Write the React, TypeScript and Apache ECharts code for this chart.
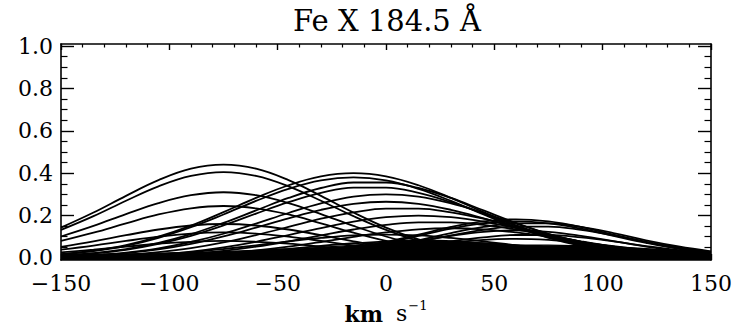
import { useEffect, useRef } from "react";
import * as echarts from "echarts";

// Doppler velocity sample points (km/s)
const velocity = [-150, -135, -120, -105, -90, -75, -60, -45, -30, -15, 0, 15, 30, 45, 60, 75, 90, 105, 120, 135, 150];

const titleText = "Fe X 184.5 Å";
const yMajorTicks = [0, 0.2, 0.4, 0.6, 0.8, 1.0];
const yMinorTicks = [0.05, 0.1, 0.15, 0.25, 0.3, 0.35, 0.45, 0.5, 0.55, 0.65, 0.7, 0.75, 0.85, 0.9, 0.95];

// blue-shifted component profiles (peak near -75 km/s)
const profileA1 = [0.143, 0.214, 0.293, 0.367, 0.421, 0.44, 0.421, 0.367, 0.293, 0.214, 0.143, 0.087, 0.048, 0.025, 0.011, 0.005, 0.002, 0.001, 0, 0, 0];
const profileA2 = [0.132, 0.197, 0.27, 0.338, 0.387, 0.405, 0.387, 0.338, 0.27, 0.197, 0.132, 0.08, 0.045, 0.023, 0.011, 0.004, 0.002, 0.001, 0, 0, 0];
const profileA3 = [0.101, 0.151, 0.207, 0.259, 0.296, 0.31, 0.296, 0.259, 0.207, 0.151, 0.101, 0.061, 0.034, 0.017, 0.008, 0.003, 0.001, 0, 0, 0, 0];
const profileA4 = [0.08, 0.119, 0.163, 0.205, 0.234, 0.245, 0.234, 0.205, 0.163, 0.119, 0.08, 0.049, 0.027, 0.014, 0.006, 0.003, 0.001, 0, 0, 0, 0];
const profileA5 = [0.052, 0.078, 0.107, 0.134, 0.153, 0.16, 0.153, 0.134, 0.107, 0.078, 0.052, 0.032, 0.018, 0.009, 0.004, 0.002, 0.001, 0, 0, 0, 0];
const profileA6 = [0.039, 0.058, 0.08, 0.1, 0.115, 0.12, 0.115, 0.1, 0.08, 0.058, 0.039, 0.024, 0.013, 0.007, 0.003, 0.001, 0, 0, 0, 0, 0];
const profileA7 = [0.026, 0.039, 0.053, 0.067, 0.076, 0.08, 0.076, 0.067, 0.053, 0.039, 0.026, 0.016, 0.009, 0.004, 0.002, 0.001, 0, 0, 0, 0, 0];

// central component profiles (peak near -15 .. +30 km/s)
const profileB1 = [0.018, 0.034, 0.06, 0.1, 0.152, 0.216, 0.283, 0.343, 0.385, 0.4, 0.385, 0.343, 0.283, 0.216, 0.152, 0.1, 0.06, 0.034, 0.018, 0.008, 0.004];
const profileB2 = [0.017, 0.032, 0.057, 0.095, 0.145, 0.205, 0.269, 0.326, 0.366, 0.38, 0.366, 0.326, 0.269, 0.205, 0.145, 0.095, 0.057, 0.032, 0.017, 0.008, 0.004];
const profileB3 = [0.011, 0.022, 0.041, 0.071, 0.112, 0.165, 0.224, 0.283, 0.33, 0.356, 0.356, 0.33, 0.283, 0.224, 0.165, 0.112, 0.071, 0.041, 0.022, 0.011, 0.005];
const profileB4 = [0.01, 0.021, 0.038, 0.066, 0.104, 0.153, 0.209, 0.263, 0.307, 0.332, 0.332, 0.307, 0.263, 0.209, 0.153, 0.104, 0.066, 0.038, 0.021, 0.01, 0.005];
const profileB5 = [0.006, 0.013, 0.025, 0.045, 0.075, 0.114, 0.162, 0.212, 0.257, 0.289, 0.3, 0.289, 0.257, 0.212, 0.162, 0.114, 0.075, 0.045, 0.025, 0.013, 0.006];
const profileB6 = [0.006, 0.012, 0.022, 0.04, 0.066, 0.101, 0.143, 0.187, 0.227, 0.255, 0.265, 0.255, 0.227, 0.187, 0.143, 0.101, 0.066, 0.04, 0.022, 0.012, 0.006];
const profileB7 = [0.003, 0.007, 0.014, 0.027, 0.046, 0.073, 0.108, 0.146, 0.185, 0.215, 0.233, 0.233, 0.215, 0.185, 0.146, 0.108, 0.073, 0.046, 0.027, 0.014, 0.007];
const profileB8 = [0.002, 0.004, 0.009, 0.017, 0.03, 0.05, 0.076, 0.108, 0.141, 0.171, 0.192, 0.2, 0.192, 0.171, 0.141, 0.108, 0.076, 0.05, 0.03, 0.017, 0.009];
const profileB9 = [0.001, 0.002, 0.005, 0.01, 0.019, 0.033, 0.053, 0.078, 0.106, 0.134, 0.156, 0.168, 0.168, 0.156, 0.134, 0.106, 0.078, 0.053, 0.033, 0.019, 0.01];
const profileB10 = [0.001, 0.001, 0.003, 0.006, 0.012, 0.021, 0.035, 0.053, 0.075, 0.099, 0.12, 0.135, 0.14, 0.135, 0.12, 0.099, 0.075, 0.053, 0.035, 0.021, 0.012];
const profileB11 = [0.002, 0.005, 0.009, 0.017, 0.027, 0.042, 0.059, 0.078, 0.094, 0.106, 0.11, 0.106, 0.094, 0.078, 0.059, 0.042, 0.027, 0.017, 0.009, 0.005, 0.002];
const profileB12 = [0.001, 0.002, 0.004, 0.007, 0.012, 0.02, 0.03, 0.043, 0.057, 0.069, 0.077, 0.08, 0.077, 0.069, 0.057, 0.043, 0.03, 0.02, 0.012, 0.007, 0.004];

// red-shifted component profiles (peak near +60 .. +70 km/s)
const profileC1 = [0, 0, 0, 0, 0.001, 0.002, 0.005, 0.012, 0.025, 0.045, 0.075, 0.11, 0.146, 0.172, 0.182, 0.172, 0.146, 0.11, 0.075, 0.045, 0.025];
const profileC2 = [0, 0, 0, 0, 0.001, 0.002, 0.005, 0.011, 0.023, 0.043, 0.071, 0.104, 0.138, 0.163, 0.172, 0.163, 0.138, 0.104, 0.071, 0.043, 0.023];
const profileC3 = [0, 0, 0, 0, 0, 0.001, 0.003, 0.007, 0.016, 0.031, 0.054, 0.083, 0.117, 0.146, 0.163, 0.163, 0.146, 0.117, 0.083, 0.054, 0.031];
const profileC4 = [0, 0, 0, 0, 0, 0.001, 0.003, 0.007, 0.014, 0.028, 0.049, 0.076, 0.106, 0.132, 0.148, 0.148, 0.132, 0.106, 0.076, 0.049, 0.028];
const profileC5 = [0, 0, 0, 0, 0.001, 0.001, 0.004, 0.009, 0.018, 0.032, 0.053, 0.079, 0.104, 0.123, 0.13, 0.123, 0.104, 0.079, 0.053, 0.032, 0.018];
const profileC6 = [0, 0, 0, 0, 0, 0.001, 0.002, 0.005, 0.011, 0.02, 0.036, 0.056, 0.078, 0.097, 0.108, 0.108, 0.097, 0.078, 0.056, 0.036, 0.02];
const profileC7 = [0, 0, 0, 0, 0, 0.001, 0.003, 0.006, 0.012, 0.022, 0.037, 0.055, 0.072, 0.085, 0.09, 0.085, 0.072, 0.055, 0.037, 0.022, 0.012];

// dense crowd of faint profiles near zero (upper envelope)
const faintEnvelope = [0.015, 0.017, 0.019, 0.022, 0.025, 0.03, 0.036, 0.043, 0.05, 0.06, 0.075, 0.085, 0.08, 0.07, 0.062, 0.06, 0.058, 0.052, 0.044, 0.034, 0.024];

const profiles = [
  profileA1, profileA2, profileA3, profileA4, profileA5, profileA6, profileA7,
  profileB1, profileB2, profileB3, profileB4, profileB5, profileB6, profileB7, profileB8, profileB9, profileB10, profileB11, profileB12,
  profileC1, profileC2, profileC3, profileC4, profileC5, profileC6, profileC7,
];

const FONT = "DejaVu Serif";

export default function App() {
  const ref = useRef<HTMLDivElement>(null);
  useEffect(() => {
    if (!ref.current) return;
    const chart = echarts.init(ref.current, null, { renderer: "svg" });
    const toPairs = (arr: number[]) => velocity.map((v, i) => [v, arr[i]]);
    const series: any[] = profiles.map((p, idx) => ({
      type: "line",
      name: "profile" + idx,
      data: toPairs(p),
      xAxisIndex: 0,
      yAxisIndex: 0,
      showSymbol: false,
      smooth: 0.4,
      lineStyle: { color: "#000", width: 1.8 },
      silent: true,
    }));
    series.push({
      type: "line",
      name: "faint",
      data: toPairs(faintEnvelope),
      xAxisIndex: 0,
      yAxisIndex: 0,
      showSymbol: false,
      smooth: 0.4,
      lineStyle: { color: "#000", width: 1.2 },
      areaStyle: { color: "#000", opacity: 1, origin: "start" },
      silent: true,
    });

    const xBase = {
      type: "value",
      min: -150,
      max: 150,
      interval: 50,
      splitLine: { show: false },
    };
    const yBase = {
      type: "value",
      min: -0.01,
      max: 1.01,
      splitLine: { show: false },
    };
    const lineAxis = { show: true, onZero: false, lineStyle: { color: "#000", width: 1.6 } };
    const noLine = { show: false, onZero: false };

    chart.setOption({
      animation: false,
      backgroundColor: "#fff",
      title: {
        text: titleText,
        left: 288,
        top: 1,
        textStyle: { fontFamily: FONT, fontSize: 29, fontWeight: "normal", color: "#000" },
      },
      grid: { left: 61, right: 38, top: 44, bottom: 69, containLabel: false, outerBoundsMode: "none" },
      xAxis: [
        {
          ...xBase,
          position: "bottom",
          axisLine: lineAxis,
          axisTick: { show: true, inside: true, length: 6, lineStyle: { color: "#000", width: 1.4 } },
          minorTick: { show: true, splitNumber: 5, length: 3.5, lineStyle: { color: "#000", width: 1.2 } },
          axisLabel: {
            show: true,
            margin: 12,
            fontFamily: FONT,
            fontSize: 22,
            color: "#000",
            formatter: (v: number) => (v < 0 ? "\u2212" + Math.abs(v) : String(v)),
          },
          name: "{b|km}{r|s}{s|\u22121}",
          nameLocation: "middle",
          nameGap: 39,
          nameTextStyle: {
            color: "#000",
            rich: {
              b: { fontFamily: FONT, fontWeight: "bold", fontSize: 22, color: "#000", padding: [0, 13, 0, 0] },
              r: { fontFamily: FONT, fontSize: 22, color: "#000" },
              s: { fontFamily: FONT, fontSize: 13, color: "#000", padding: [0, 0, 16, 1] },
            },
          },
        },
        {
          ...xBase,
          position: "top",
          axisLine: lineAxis,
          axisTick: { show: true, inside: true, length: 6, lineStyle: { color: "#000", width: 1.4 } },
          minorTick: { show: true, splitNumber: 5, length: 3.5, lineStyle: { color: "#000", width: 1.2 } },
          axisLabel: { show: false },
        },
      ],
      yAxis: [
        {
          ...yBase,
          position: "left",
          axisLine: lineAxis,
          axisTick: { show: true, inside: true, length: 13, customValues: yMajorTicks, lineStyle: { color: "#000", width: 1.4 } },
          axisLabel: {
            show: true,
            margin: 8,
            fontFamily: FONT,
            fontSize: 22,
            color: "#000",
            customValues: yMajorTicks,
            formatter: (v: number) => v.toFixed(1),
          },
        },
        {
          ...yBase,
          position: "left",
          axisLine: noLine,
          axisTick: { show: true, inside: true, length: 6.5, customValues: yMinorTicks, lineStyle: { color: "#000", width: 1.2 } },
          axisLabel: { show: false, customValues: yMinorTicks },
        },
        {
          ...yBase,
          position: "right",
          axisLine: lineAxis,
          axisTick: { show: true, inside: true, length: 13, customValues: yMajorTicks, lineStyle: { color: "#000", width: 1.4 } },
          axisLabel: { show: false, customValues: yMajorTicks },
        },
        {
          ...yBase,
          position: "right",
          axisLine: noLine,
          axisTick: { show: true, inside: true, length: 6.5, customValues: yMinorTicks, lineStyle: { color: "#000", width: 1.2 } },
          axisLabel: { show: false, customValues: yMinorTicks },
        },
      ],
      series,
    });
    return () => chart.dispose();
  }, []);
  return <div ref={ref} style={{ position: "fixed", left: 0, top: 0, width: 749, height: 329 }} />;
}
